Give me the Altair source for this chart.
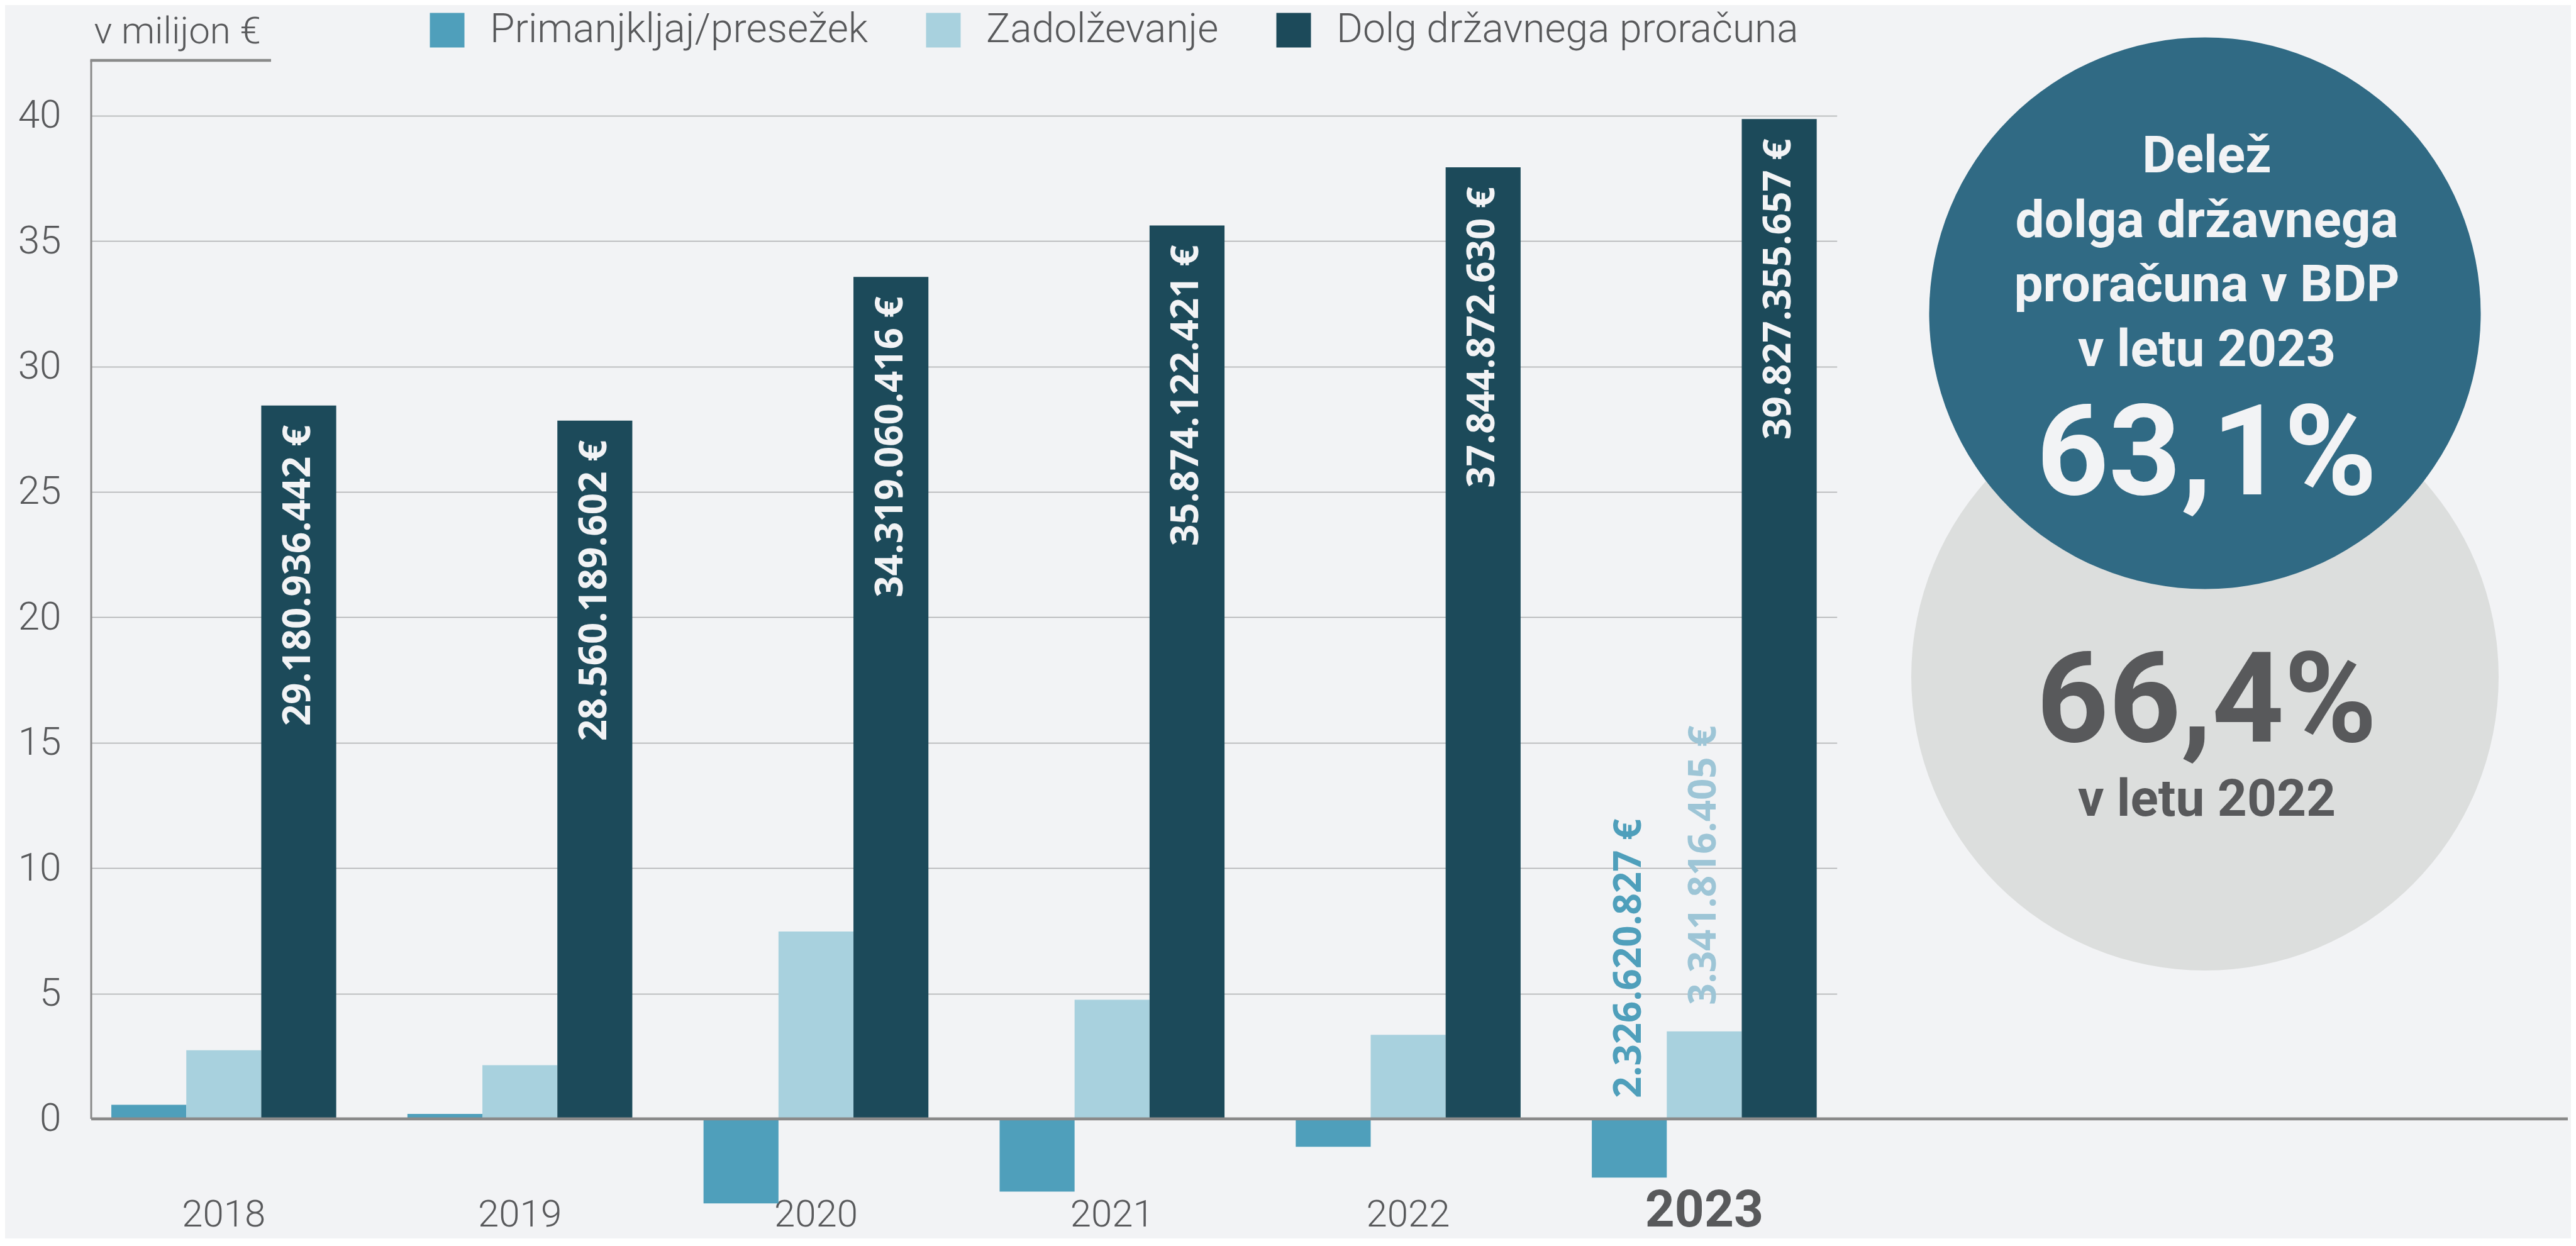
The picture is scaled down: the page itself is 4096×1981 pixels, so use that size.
import altair as alt
import pandas as pd

# ---------------- data ----------------
years = ["2018", "2019", "2020", "2021", "2022", "2023"]
series = ["Primanjkljaj/presežek", "Zadolževanje", "Dolg državnega proračuna"]
primanjkljaj = [0.56, 0.20, -3.37, -2.90, -1.11, -2.34]
zadolzevanje = [2.74, 2.14, 7.47, 4.75, 3.35, 3.49]
dolg = [28.44, 27.84, 33.57, 35.62, 37.94, 39.86]
dolg_labels = ["29.180.936.442 €", "28.560.189.602 €", "34.319.060.416 €",
               "35.874.122.421 €", "37.844.872.630 €", "39.827.355.657 €"]
label_2023_prim = "2.326.620.827 €"
label_2023_zad = "3.341.816.405 €"
y_ticks = [0, 5, 10, 15, 20, 25, 30, 35, 40]
unit_label = "v milijon €"
box_title = ["Delež", "dolga državnega", "proračuna v BDP", "v letu 2023"]
share_2023 = "63,1%"
share_2022 = "66,4%"
box_sub = "v letu 2022"

colors = ["#4f9fbb", "#a8d1de", "#1c4a5a"]
TEXT = "#58595b"
BG = "#f2f3f5"

rows = []
for i, y in enumerate(years):
    rows.append({"year": y, "series": series[0], "value": primanjkljaj[i]})
    rows.append({"year": y, "series": series[1], "value": zadolzevanje[i]})
    rows.append({"year": y, "series": series[2], "value": dolg[i]})
df = pd.DataFrame(rows)
df_dolg = pd.DataFrame({"year": years, "series": series[2], "value": dolg, "label": dolg_labels})
df_prim23 = pd.DataFrame({"year": [years[-1]], "series": [series[0]], "value": [0.0], "label": [label_2023_prim]})
df_zad23 = pd.DataFrame({"year": [years[-1]], "series": [series[1]], "value": [zadolzevanje[-1]], "label": [label_2023_zad]})
one = alt.Chart(pd.DataFrame({"k": [0]}))

W = 3938
H = 1826.5
LIGHT = "Roboto"
BOLD = "Open Sans"
CIRC = "Roboto"

x_enc = alt.X(
    "year:N", sort=years,
    scale=alt.Scale(domain=years, range=[0, 2775.7], paddingInner=0.2405, paddingOuter=0.068),
    axis=alt.Axis(
        title=None, domain=False, ticks=False, grid=False, labelAngle=0, labelLimit=1000,
        labelBaseline="alphabetic", labelPadding=27, labelFont=LIGHT, labelColor=TEXT,
        labelFontSize={"condition": {"test": "datum.value == '2023'", "value": 82}, "value": 60},
        labelFontWeight={"condition": {"test": "datum.value == '2023'", "value": "bold"}, "value": 300},
    ),
)
xo_enc = alt.XOffset("series:N", sort=series,
                     scale=alt.Scale(domain=series, paddingInner=0, paddingOuter=0))
y_enc = alt.Y(
    "value:Q",
    scale=alt.Scale(domain=[-3.6, 42.2], nice=False, zero=False),
    axis=alt.Axis(
        title=None, values=y_ticks, domain=False, ticks=False, grid=True,
        gridColor="#adaeb0", gridWidth=1.6, labelFont=LIGHT, labelFontWeight=300,
        labelFontSize=62, labelColor=TEXT, labelPadding=48,
    ),
)

bars = alt.Chart(df).mark_bar().encode(
    x=x_enc, xOffset=xo_enc, y=y_enc,
    color=alt.Color(
        "series:N",
        scale=alt.Scale(domain=series, range=colors),
        legend=alt.Legend(
            orient="none", legendX=534, legendY=-80, direction="horizontal", title=None,
            symbolType="square", symbolSize=3025, symbolStrokeWidth=0, symbolOpacity=1,
            labelFont=LIGHT, labelFontWeight=300, labelFontSize=64, labelColor=TEXT,
            labelOffset=36, columnPadding=87, padding=0, labelLimit=3000,
        ),
    ),
)

zero_rule = one.mark_rule(color="#8a8a8a", strokeWidth=4.8).encode(
    x=alt.value(0), x2=alt.value(W), y=alt.datum(0))
y_line = one.mark_rule(color="#8a8a8a", strokeWidth=3).encode(
    x=alt.value(0), y=alt.datum(0), y2=alt.value(0))
cap = one.mark_rule(color="#8a8a8a", strokeWidth=4.5).encode(
    x=alt.value(-1.5), x2=alt.value(286), y=alt.value(0))

dolg_text = alt.Chart(df_dolg).mark_text(
    angle=270, align="right", baseline="middle", dx=-31,
    font=BOLD, fontWeight="bold", fontSize=60, color=BG,
).encode(x=x_enc, xOffset=xo_enc, y=y_enc, text="label:N")

prim_text = alt.Chart(df_prim23).mark_text(
    angle=270, align="left", baseline="middle", dx=33,
    font=BOLD, fontWeight="bold", fontSize=60, color="#4f9fbb",
).encode(x=x_enc, xOffset=xo_enc, y=y_enc, text="label:N")

zad_text = alt.Chart(df_zad23).mark_text(
    angle=270, align="left", baseline="middle", dx=42,
    font=BOLD, fontWeight="bold", fontSize=60, color="#9dc5d6",
).encode(x=x_enc, xOffset=xo_enc, y=y_enc, text="label:N")

unit = one.mark_text(align="left", baseline="alphabetic", font=LIGHT, fontWeight=300,
                     fontSize=60, color=TEXT).encode(
    x=alt.value(4.4), y=alt.value(-26.7), text=alt.value(unit_label))

# Vega circle symbol: size = diameter^2
grey_circle = one.mark_circle(size=934 ** 2, color="#dcdedd", opacity=1).encode(
    x=alt.value(3361), y=alt.value(980))
dark_circle = one.mark_circle(size=877 ** 2, color="#306a84", opacity=1).encode(
    x=alt.value(3361), y=alt.value(402))

title_txt = one.mark_text(align="center", baseline="alphabetic", font=CIRC, fontWeight="bold",
                          fontSize=82, lineHeight=102.5, color=BG).encode(
    x=alt.value(3364), y=alt.value(178), text=alt.value(box_title))
big23 = one.mark_text(align="center", baseline="alphabetic", font=CIRC, fontWeight="bold",
                      fontSize=200, color=BG).encode(
    x=alt.value(3364), y=alt.value(690), text=alt.value(share_2023))
big22 = one.mark_text(align="center", baseline="alphabetic", font=CIRC, fontWeight="bold",
                      fontSize=200, color=TEXT).encode(
    x=alt.value(3364), y=alt.value(1082.5), text=alt.value(share_2022))
sub22 = one.mark_text(align="center", baseline="alphabetic", font=CIRC, fontWeight="bold",
                      fontSize=82, color=TEXT).encode(
    x=alt.value(3364), y=alt.value(1201), text=alt.value(box_sub))

chart = alt.layer(
    bars, zero_rule, y_line, cap, dolg_text, prim_text, zad_text, unit,
    grey_circle, dark_circle, title_txt, big23, big22, sub22,
).properties(
    width=W, height=H,
    autosize=alt.AutoSizeParams(type="none"),
    padding={"left": 137, "top": 88, "right": 5, "bottom": 46.5},
    background=BG,
).configure_view(stroke=None)

chart.save("out.html", embed_options={"renderer": "svg", "actions": False})
